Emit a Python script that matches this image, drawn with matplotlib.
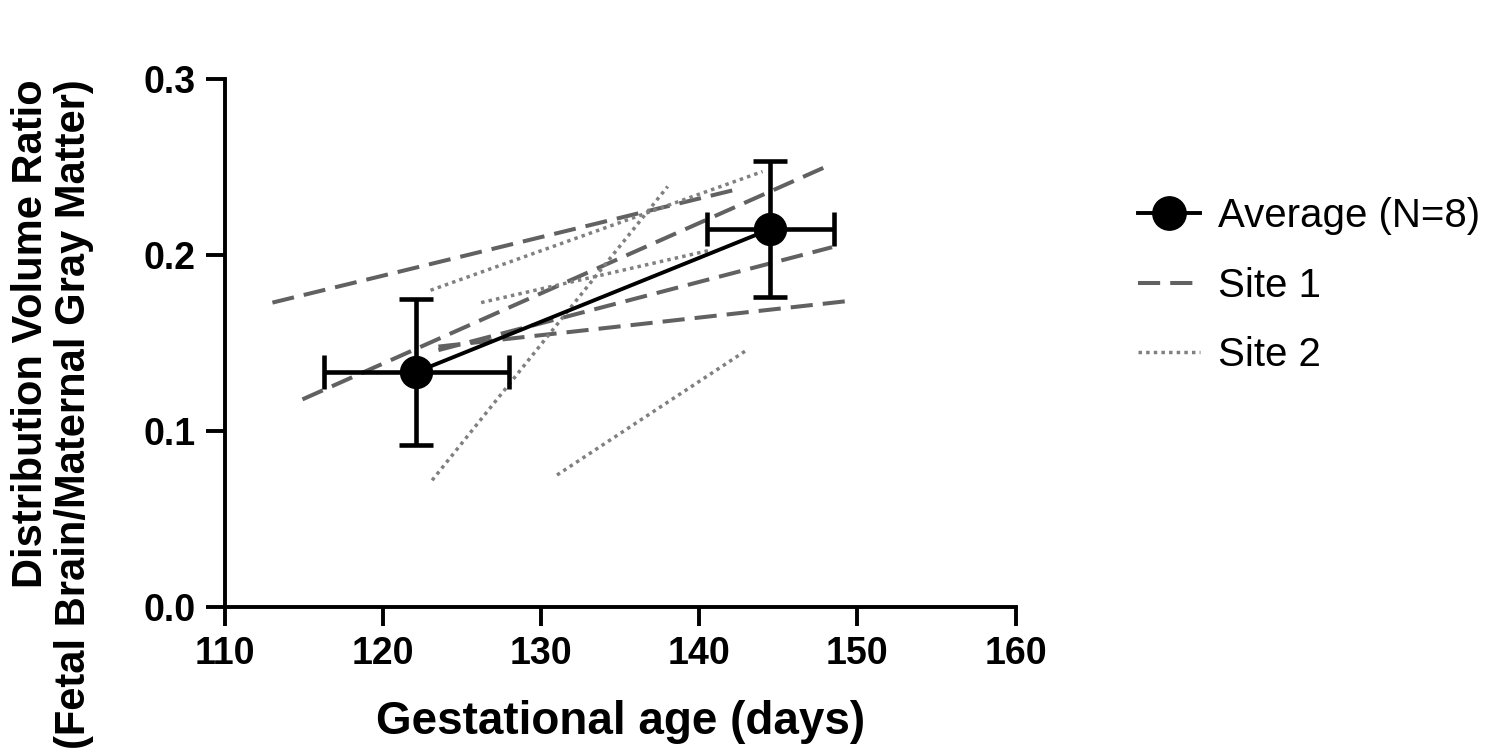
import matplotlib
matplotlib.use("Agg")
import matplotlib.pyplot as plt
from matplotlib.lines import Line2D

plt.rcParams['font.family'] = ['Liberation Sans', 'DejaVu Sans']

# average of the 8 animals, with SD in both directions
avg_age = [122.1, 144.5]
avg_dvr = [0.1335, 0.2148]
avg_age_err = [5.85, 4.0]
avg_dvr_err = [0.0415, 0.0387]

# site 1 animals (dashed), start and end of each line
site1_age = [[113.0, 142.2], [114.9, 148.2], [123.5, 148.4], [123.5, 149.5]]
site1_dvr = [[0.173, 0.237], [0.118, 0.251], [0.146, 0.2045], [0.148, 0.174]]

# site 2 animals (dotted)
site2_age = [[123.0, 144.0], [123.1, 138.0], [131.0, 143.0], [126.2, 140.8]]
site2_dvr = [[0.180, 0.2475], [0.072, 0.239], [0.075, 0.146], [0.173, 0.203]]

xticks = [110, 120, 130, 140, 150, 160]
yticks = [0.0, 0.1, 0.2, 0.3]

fig = plt.figure(figsize=(15, 7.54), dpi=100)
ax = fig.add_axes([0.15, 0.195, 0.527, 0.70])

dash_style = (0, (5.5, 2.5))
dot_style = (0, (1, 1.2))

for xs, ys in zip(site1_age, site1_dvr):
    ax.plot(xs, ys, color='#616161', lw=2.9, linestyle=dash_style, zorder=2)
for xs, ys in zip(site2_age, site2_dvr):
    ax.plot(xs, ys, color='#808080', lw=2.5, linestyle=dot_style, zorder=2)

ax.errorbar(avg_age, avg_dvr, xerr=avg_age_err, yerr=avg_dvr_err,
            color='black', lw=2.8, elinewidth=3.3, capsize=12, capthick=3.3,
            marker='o', ms=23, zorder=3)

ax.set_xlim(110, 160)
ax.set_ylim(0, 0.3)
ax.set_xticks(xticks)
ax.set_yticks(yticks)
ax.set_xticklabels([str(t) for t in xticks])
ax.set_yticklabels(['%.1f' % t for t in yticks])

for side in ['top', 'right']:
    ax.spines[side].set_visible(False)
for side in ['left', 'bottom']:
    ax.spines[side].set_linewidth(2.8)
ax.tick_params(axis='both', length=14, width=2.8, pad=7, labelsize=27)
for lab in ax.get_xticklabels() + ax.get_yticklabels():
    lab.set_fontweight('bold')

ax.set_xlabel('Gestational age (days)', fontsize=33, fontweight='bold', labelpad=20)
# y label: lines flush at the top, block sits lower than the axis centre
fig.text(0.035, 1 - 414 / 754, 'Distribution Volume Ratio\n(Fetal Brain/Maternal Gray Matter)',
         rotation=90, ha='center', va='center', fontsize=30, fontweight='bold',
         linespacing=1.08, multialignment='right')

handles = [
    Line2D([], [], color='black', lw=2.8, marker='o', ms=24),
    Line2D([], [], color='#616161', lw=2.9, linestyle=dash_style),
    Line2D([], [], color='#808080', lw=2.5, linestyle=dot_style),
]
labels = ['Average (N=8)', 'Site 1', 'Site 2']
fig.legend(handles, labels, loc='upper left', bbox_to_anchor=(0.745, 0.765),
           frameon=False, fontsize=29, handlelength=1.55, handletextpad=0.45,
           labelspacing=0.78, borderpad=0)

fig.savefig('out.png', dpi=100)
